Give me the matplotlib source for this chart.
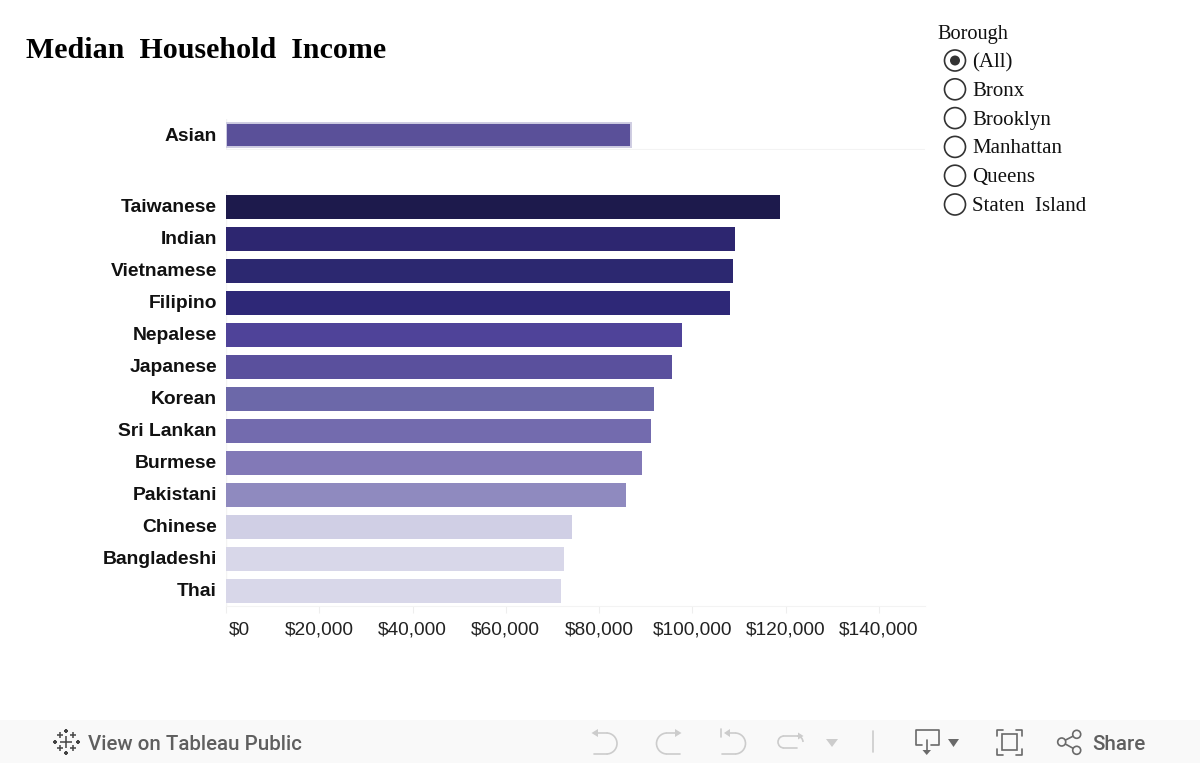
from matplotlib import pyplot as plt
from matplotlib.patches import Arc, Circle, Polygon, Rectangle
from matplotlib.transforms import ScaledTranslation

W, H = 1200, 763

# values
overall_label = "Asian"
overall_value = 86900
overall_color = "#5a5099"

groups = ["Taiwanese", "Indian", "Vietnamese", "Filipino", "Nepalese", "Japanese", "Korean",
          "Sri Lankan", "Burmese", "Pakistani", "Chinese", "Bangladeshi", "Thai"]
incomes = [118900, 109100, 108650, 108000, 97900, 95550, 91900, 91050, 89150, 85700, 74300, 72600, 71950]
colors = ["#1d1a4c", "#2d2670", "#2c2870", "#2e2877", "#4f4399", "#5a509d", "#6c68a9",
          "#736bae", "#8279b7", "#8f8abf", "#d0cfe5", "#d8d7e9", "#d8d7e9"]

ticks = [0, 20000, 40000, 60000, 80000, 100000, 120000, 140000]
tick_labels = ["$0", "$20,000", "$40,000", "$60,000", "$80,000", "$100,000", "$120,000", "$140,000"]
boroughs = ["(All)", "Bronx", "Brooklyn", "Manhattan", "Queens", "Staten Island"]

SANS = "Liberation Sans"
SERIF = "Liberation Serif"
PX_PER_20K = 93.25
XMAX = (925 - 226) / PX_PER_20K * 20000


def axes_px(fig, left, top, right, bottom, **kw):
    """ makes axes from pixel edges measured from the top left corner """
    return fig.add_axes([left / W, 1 - bottom / H, (right - left) / W, (bottom - top) / H], **kw)


def nudge(lab, dx_px, dy_px):
    """ moves a tick label by some pixels, dy going up """
    lab.set_transform(lab.get_transform() + ScaledTranslation(dx_px / 100, dy_px / 100, fig.dpi_scale_trans))


def clean(ax, label_dy):
    for side in ["top", "right", "left", "bottom"]:
        ax.spines[side].set_visible(False)
    ax.set_xlim(0, XMAX)
    ax.tick_params(axis="y", length=0, pad=6.5, labelsize=13.9, labelcolor="#111111")
    for lab in ax.get_yticklabels():
        lab.set_fontfamily(SANS)
        lab.set_fontweight("bold")
        nudge(lab, 0, label_dy)


fig = plt.figure(figsize=(W / 100, H / 100), dpi=100, facecolor="white")

# top pane with the overall bar
ax_top = axes_px(fig, 226, 119, 925, 150)
ax_top.barh([0], [overall_value], height=24, color=overall_color, edgecolor="#cfcde2", linewidth=1.4)
ax_top.set_ylim(-15, 16)
ax_top.set_yticks([0], [overall_label])
ax_top.set_xticks([])
clean(ax_top, 0.3)
ax_top.axhline(-15, color="#f3f3f3", linewidth=1.5, zorder=0.5)
ax_top.axvline(0, color="#f3f3f3", linewidth=1, zorder=0.5)

# main pane, one row is 32 px high
ax = axes_px(fig, 226, 191, 925, 606)
rows = list(range(len(groups)))
ax.barh(rows, incomes, height=0.75, color=colors)
ax.set_ylim(len(groups) - 1 + 15 / 32, -0.5)
ax.set_yticks(rows, groups)
ax.set_xticks(ticks, tick_labels)
clean(ax, 1.5)
ax.spines["bottom"].set_visible(True)
ax.spines["bottom"].set_color("#f3f3f3")
ax.axvline(0, color="#f3f3f3", linewidth=1, zorder=0.5)
ax.tick_params(axis="x", length=5, color="#eeeeee", pad=6.2, labelsize=13.8, labelcolor="#222222")
for lab in ax.get_xticklabels():
    lab.set_fontfamily(SANS)
first = ax.get_xticklabels()[0]
first.set_ha("left")
nudge(first, 3, 0)

# pixel overlay for the title, the filter and the toolbar
ov = fig.add_axes([0, 0, 1, 1], zorder=5)
ov.set_xlim(0, W)
ov.set_ylim(H, 0)
ov.axis("off")
ov.patch.set_alpha(0)

ov.text(26, 51, "Median  Household  Income", family=SERIF, fontweight="bold", fontsize=21.6,
        color="black", va="center", ha="left")

ov.text(937.5, 34, "Borough", family=SERIF, fontsize=14.6, color="#111111", va="center")
for i, name in enumerate(boroughs):
    y = 60.5 + i * 28.8
    ov.add_patch(Circle((955, y), 10.5, facecolor="white", edgecolor="#333333", linewidth=1.2))
    if i == 0:
        ov.add_patch(Circle((955, y), 5, facecolor="#333333", edgecolor="none"))
    ov.text(972.5, y + 2, name.replace(" ", "  "), family=SERIF, fontsize=15, color="#111111", va="center")

# toolbar
ov.add_patch(Rectangle((0, 720), W, 43, facecolor="#f9f9f9", edgecolor="none"))
ov.text(88, 744, "View on Tableau Public", family="Roboto", fontsize=14.8, color="#5f5f5f",
        va="center", fontweight="medium")
ov.text(1092, 744, "Share", family="Roboto", fontsize=14.9, color="#5f5f5f", va="center", fontweight="medium")

# tableau logo crosses
for cx, cy, s, w in [(66, 741.5, 6, 1.1), (66, 730.5, 2, 1.5), (66, 753, 2, 1.5), (54.5, 741.5, 2, 1.5),
                     (77.5, 741.5, 2, 1.5), (60, 735, 3, 1.1), (72.5, 735, 3, 1.1), (60, 748, 3, 1.1),
                     (72.5, 748, 3, 1.1)]:
    ov.plot([cx - s, cx + s], [cy, cy], color="#444444", lw=w, solid_capstyle="butt")
    ov.plot([cx, cx], [cy - s, cy + s], color="#444444", lw=w, solid_capstyle="butt")

light = "#cccccc"
dark = "#6a6a6a"


def line(xs, ys, color=light, lw=1.2):
    ov.plot(xs, ys, color=color, lw=lw, solid_capstyle="round")


def arc(cx, cy, r, t1, t2, color=light):
    ov.add_patch(Arc((cx, cy), 2 * r, 2 * r, theta1=t1, theta2=t2, color=color, lw=1.2))


def tri(pts, color=light):
    ov.add_patch(Polygon(pts, closed=True, facecolor=color, edgecolor="none"))


# the y axis of the overlay is flipped, so the arc angles are mirrored too
# undo
line([594, 606.5], [733, 733])
line([594, 606.5], [754, 754])
arc(606.5, 743.5, 10.5, -90, 90)
tri([(591.5, 733), (598, 729), (598, 737)])
# redo
line([667, 679], [733, 733])
line([667, 680], [754, 754])
arc(667, 743.5, 10.5, 90, 270)
tri([(681.5, 733), (675, 729), (675, 737)])
# revert
line([721, 721], [729, 737])
line([727, 735], [733, 733])
line([722, 735], [754, 754])
arc(735, 743.5, 10.5, -90, 90)
tri([(724, 733), (730, 729), (730, 737)])
# refresh
line([784, 798], [736, 736])
line([784, 797], [748, 748])
arc(784, 742, 6, 90, 270)
arc(797, 742, 6, -90, 0)
tri([(803.5, 736), (798, 732.5), (798, 739.5)])
tri([(826, 739), (838, 739), (832, 747)])
# separator
line([872.7, 872.7], [731, 752])
# download
line([922, 916, 916, 938.7, 938.7, 931], [745, 745, 730, 730, 745, 745], color=dark)
line([926.7, 926.7], [740, 751], color=dark)
tri([(922.5, 750), (931, 750), (926.7, 755)], dark)
tri([(948, 739), (959, 739), (953.5, 747)], dark)
# fullscreen
ov.add_patch(Rectangle((1002, 734), 15, 16, facecolor="none", edgecolor=dark, lw=1.2))
for x, y, dx, dy in [(997, 730, 1, 1), (1022, 730, -1, 1), (997, 755, 1, -1), (1022, 755, -1, -1)]:
    line([x, x, x + 6 * dx], [y + 6 * dy, y, y], color=dark)
# share
line([1061.7, 1076.7], [742, 734.3], color=dark)
line([1061.7, 1076.7], [742, 750.3], color=dark)
for cx, cy in [(1061.7, 742), (1076.7, 734.3), (1076.7, 750.3)]:
    ov.add_patch(Circle((cx, cy), 4, facecolor="#f9f9f9", edgecolor=dark, lw=1.2, zorder=6))

fig.savefig("out.png", dpi=100, facecolor="white")
